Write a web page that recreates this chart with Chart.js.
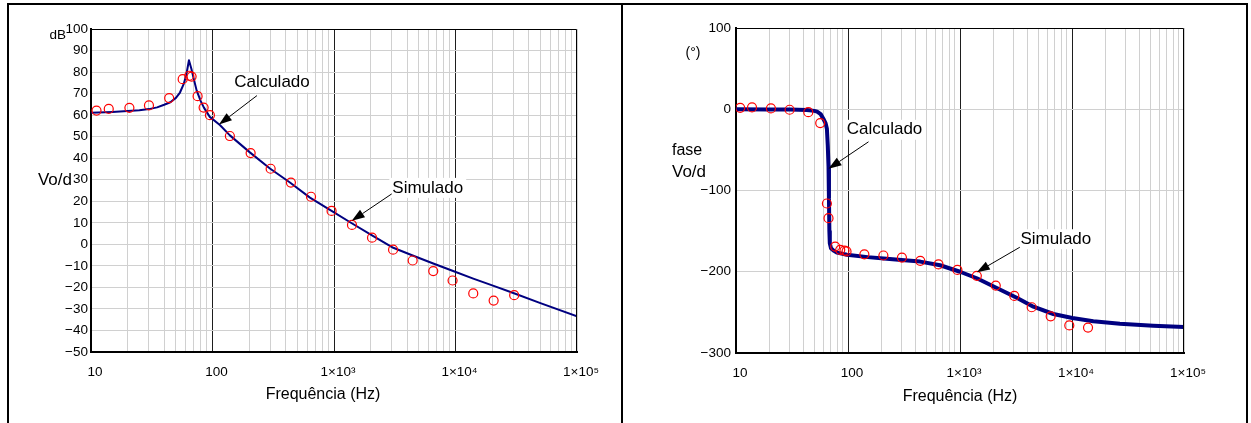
<!DOCTYPE html>
<html><head><meta charset="utf-8">
<script src="https://cdn.jsdelivr.net/npm/chart.js@4/dist/chart.umd.min.js"></script>
<style>
html,body{margin:0;padding:0;background:#fff;}
body{width:1251px;height:423px;position:relative;overflow:hidden;}
.ln{position:absolute;background:#000;}
.wrap{position:absolute;}
canvas{display:block;}
</style></head><body>
<div class="ln" style="left:7px;top:3px;width:1241px;height:2px"></div>
<div class="ln" style="left:7px;top:3px;width:2px;height:420px"></div>
<div class="ln" style="left:621px;top:3px;width:2px;height:420px"></div>
<div class="ln" style="left:1246px;top:3px;width:2px;height:420px"></div>
<div class="wrap" style="left:9px;top:5px;width:612px;height:418px"><canvas id="c1" width="612" height="418"></canvas></div>
<div class="wrap" style="left:623px;top:5px;width:623px;height:418px"><canvas id="c2" width="623" height="418"></canvas></div>
<script>
const FONT = '"Liberation Sans", Arial, sans-serif';

// ---- Magnitude (left) ----
const magCalcFreq = [10,15,20,25,30,35,40,45,50,54,58,61,64,67,70,74,80,85,95,115,139,203,297,434,634,955,1400,2056,3076,4440,6560,9554,14000,20600,29900,50000,100000];
const magCalcDb   = [61.1,61.5,61.9,62.3,62.8,63.6,64.8,66,68,70.5,74.5,79,85.5,81.5,77,71.5,66.5,63.5,59.2,55.4,50.6,42.7,35.2,28.7,21.7,15.5,9.8,4.2,-1.6,-5.2,-8.9,-12.4,-15.9,-19.3,-22.6,-27.3,-33.4];
const magSimFreq  = [11.1,14,20.7,30,44,56.8,64.4,67.3,75.4,84.5,95.2,139,206,301,442,647,955,1406,2056,3063,4440,6560,9460,14000,20600,30400];
const magSimDb    = [62.1,62.9,63.4,64.5,67.9,76.7,78.3,77.9,68.8,63.5,60,50.3,42.4,35.1,28.7,22.1,15.5,9.0,3.1,-2.5,-7.5,-12.4,-16.8,-22.8,-26.1,-23.6];
const magTicks    = [-50,-40,-30,-20,-10,0,10,20,30,40,50,60,70,80,90,100];

// ---- Phase (right) ----
const phaseCalcFreq = [10,20,30,43,50,53,57,60.4,63,64.8,66,67,67.6,68.2,68.8,70.5,74.3,80,97.8,150,222,300,441,664,1000,1413,2128,3210,4520,6820,10070,15500,26800,53100,100000];
const phaseCalcDeg  = [0,-0.2,-0.4,-0.8,-2,-3,-6,-12,-17,-24,-45,-70,-110,-150,-165,-171,-174,-176.5,-179,-182,-184,-185.5,-187.5,-192,-200,-208,-220,-232,-243,-252,-257,-261,-264,-266.5,-268];
const phaseSimFreq  = [10.9,13.9,20.5,30.1,44.2,56.5,64.8,67,76.9,85.2,93,97,140,207,303,442,643,948,1413,2086,3055,4365,6450,9460,13900];
const phaseSimDeg   = [1.8,2.2,1,-0.6,-3.6,-17,-116,-134,-169,-173,-174,-175,-178.5,-180,-182.5,-186.6,-191,-197.7,-205,-217,-229.7,-243.7,-254.8,-266,-268.7];
const phaseTicks    = [-300,-200,-100,0,100];

// ---- Shared x axis ----
const xGridValues = [10,20,30,40,50,60,70,80,90,100,200,300,400,500,600,700,800,900,1000,2000,3000,4000,5000,6000,7000,8000,9000,10000,20000,30000,40000,50000,60000,70000,80000,90000,100000];
const xDecadeValues = [10,100,1000,10000,100000];
const xDecadeLabels = ['10','100','1×10³','1×10⁴','1×10⁵'];
const xTitle = 'Frequência (Hz)';

function pts(xs, ys){ return xs.map((x,i)=>({x:x, y:ys[i]})); }
function fmt(v){ return String(v).replace('-', '\u2212'); }

const extras = {
  id:'extras',
  afterDraw(chart, args, o){
    const ctx = chart.ctx, a = chart.chartArea, xs = chart.scales.x, ys = chart.scales.y;
    ctx.save();
    // top & right frame
    ctx.strokeStyle = '#000'; ctx.lineWidth = 1;
    ctx.beginPath();
    ctx.moveTo(a.left, a.top + 0.5); ctx.lineTo(a.right - 0.5, a.top + 0.5); ctx.lineTo(a.right - 0.5, a.bottom);
    ctx.stroke();
    // free labels
    o.texts.forEach(t => {
      ctx.font = t.size + 'px ' + FONT; ctx.fillStyle = '#000';
      ctx.textAlign = t.align; ctx.textBaseline = 'middle';
      ctx.fillText(t.text, a.left + t.dx, ys.getPixelForValue(t.yv));
    });
    // callouts
    o.callouts.forEach(c => {
      const tx = xs.getPixelForValue(c.f), ty = ys.getPixelForValue(c.v);
      ctx.font = '17px ' + FONT;
      const w = ctx.measureText(c.text).width;
      const cx = tx + c.tdx, cy = ty + c.tdy;
      ctx.fillStyle = '#fff'; ctx.fillRect(cx - w/2 - 3, cy - 10, w + 6, 20);
      ctx.fillStyle = '#000'; ctx.textAlign = 'center'; ctx.textBaseline = 'middle';
      ctx.fillText(c.text, cx, cy);
      const sx = tx + c.sdx, sy = ty + c.sdy;
      const ang = Math.atan2(ty - sy, tx - sx), hl = 13, hw = 4.5;
      const bx = tx - hl*Math.cos(ang), by = ty - hl*Math.sin(ang);
      ctx.strokeStyle = '#000'; ctx.lineWidth = 1;
      ctx.beginPath(); ctx.moveTo(sx, sy); ctx.lineTo(bx, by); ctx.stroke();
      ctx.beginPath(); ctx.moveTo(tx, ty);
      ctx.lineTo(bx + hw*Math.sin(ang), by - hw*Math.cos(ang));
      ctx.lineTo(bx - hw*Math.sin(ang), by + hw*Math.cos(ang));
      ctx.closePath(); ctx.fill();
    });
    // x axis title
    ctx.font = '16px ' + FONT; ctx.fillStyle = '#000';
    ctx.textAlign = 'center'; ctx.textBaseline = 'middle';
    ctx.fillText(xTitle, (a.left + a.right) / 2 + o.titleDx, a.bottom + o.titleDy);
    ctx.restore();
  }
};

function makeChart(id, g){
  return new Chart(document.getElementById(id), {
    type:'line',
    data:{ datasets:[
      { data: pts(g.simF, g.simV), showLine:false, borderColor:'#ff0000', backgroundColor:'rgba(0,0,0,0)',
        pointRadius:4.5, pointBorderWidth:1.2, pointHoverRadius:4.5, order:0 },
      { data: pts(g.calcF, g.calcV), borderColor:'#000080', borderWidth:g.lw, pointRadius:0,
        tension:0, fill:false, borderJoinStyle:'round', order:1 }
    ]},
    options:{
      responsive:false, animation:false, events:[],
      layout:{ padding:{ left:0, right:g.padR, top:g.padT, bottom:0 } },
      plugins:{ legend:{display:false}, tooltip:{enabled:false},
        extras:{ texts:g.texts, callouts:g.callouts, titleDx:g.titleDx, titleDy:g.titleDy } },
      scales:{
        x:{ type:'logarithmic', min:10, max:100000,
          afterBuildTicks: s => { s.ticks = xGridValues.map(v => ({value:v})); },
          afterFit: s => { s.height = g.xH; },
          ticks:{ autoSkip:false, maxRotation:0, minRotation:0, padding:g.xPad, labelOffset:4, color:'#000',
            font:{family:FONT, size:13.5},
            callback: v => { const i = xDecadeValues.indexOf(v); return i >= 0 ? xDecadeLabels[i] : ''; } },
          grid:{ drawTicks:false, lineWidth:1,
            color: c => (c.tick && xDecadeValues.indexOf(c.tick.value) > 0 && c.tick.value < 100000) ? '#1e1e1e' : '#d0d0d0' },
          border:{ display:true, color:'#000', width:2 },
          title:{ display:false }
        },
        y:{ type:'linear', min:g.yTicks[0], max:g.yTicks[g.yTicks.length-1],
          afterBuildTicks: s => { s.ticks = g.yTicks.map(v => ({value:v})); },
          afterFit: s => { s.width = g.yW; },
          ticks:{ padding:g.yPad, color:'#000', font:{family:FONT, size:13.5}, callback: v => fmt(v) },
          grid:{ drawTicks:false, color:'#d0d0d0', lineWidth:1 },
          border:{ display:true, color:'#000', width:2 }
        }
      }
    },
    plugins:[extras]
  });
}

makeChart('c1', {
  calcF: magCalcFreq, calcV: magCalcDb, simF: magSimFreq, simV: magSimDb, yTicks: magTicks,
  lw:2, yW:82, xH:71, padR:44, padT:24, yPad:3, xPad:12.5, titleDx:-11, titleDy:43,
  texts:[
    {text:'dB', size:13.5, align:'right', dx:-25, yv:97},
    {text:'Vo/d', size:17, align:'right', dx:-19, yv:29.5}
  ],
  callouts:[
    {text:'Calculado', f:113, v:55.6, tdx:53, tdy:-42, sdx:38, sdy:-29},
    {text:'Simulado', f:1400, v:10.9, tdx:76, tdy:-33, sdx:40, sdy:-27}
  ]
});

makeChart('c2', {
  calcF: phaseCalcFreq, calcV: phaseCalcDeg, simF: phaseSimFreq, simV: phaseSimDeg, yTicks: phaseTicks,
  lw:4, yW:113, xH:70, padR:62, padT:23, yPad:5, xPad:12, titleDx:0, titleDy:43.5,
  texts:[
    {text:'(°)', size:14, align:'center', dx:-43, yv:68.7},
    {text:'fase', size:16, align:'left', dx:-64, yv:-50.7},
    {text:'Vo/d', size:17, align:'left', dx:-64, yv:-77.8}
  ],
  callouts:[
    {text:'Calculado', f:67, v:-73.3, tdx:56, tdy:-39, sdx:40, sdy:-27},
    {text:'Simulado', f:1413, v:-200.6, tdx:79, tdy:-33, sdx:43, sdy:-25}
  ]
});
</script>
</body></html>
